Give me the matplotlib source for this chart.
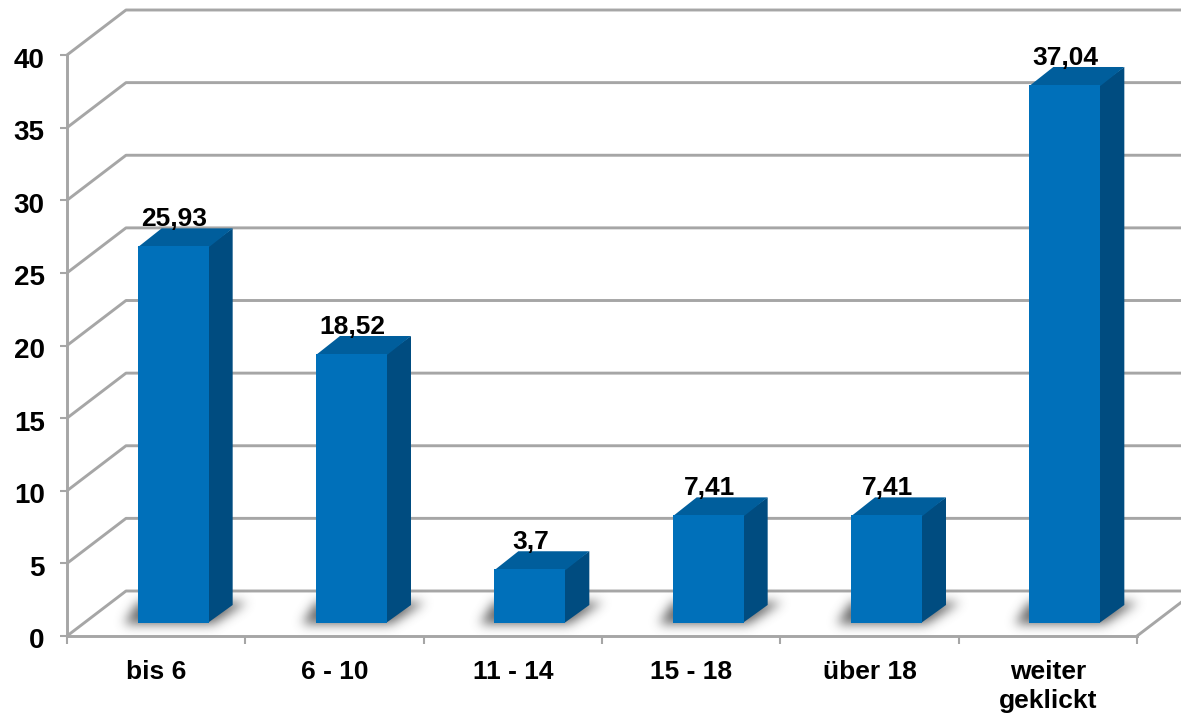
import numpy as np
import matplotlib
matplotlib.use("Agg")
import matplotlib.pyplot as plt
from matplotlib.patches import Polygon
from matplotlib.path import Path
from matplotlib.transforms import ScaledTranslation

categories = ["bis 6", "6 - 10", "11 - 14", "15 - 18", "über 18", "weiter\ngeklickt"]
values = [25.93, 18.52, 3.7, 7.41, 7.41, 37.04]
labels = ["25,93", "18,52", "3,7", "7,41", "7,41", "37,04"]
yticks = [0, 5, 10, 15, 20, 25, 30, 35, 40]

W, H = 1181, 719
L, R, B, T = 67, 1137, 636, 55
plt.rcParams["font.family"] = ["Liberation Sans", "DejaVu Sans"]
fig = plt.figure(figsize=(W / 100, H / 100), dpi=100)
ax = fig.add_axes([L / W, 1 - B / H, (R - L) / W, (B - T) / H])
ax.patch.set_visible(False)

px = 6 / (R - L)      # category units per pixel
py = 40 / (B - T)     # value units per pixel
wall_dx, wall_dy = 59 * px, 45 * py
GRID = "#a6a6a6"
LW = 2.1

# walls and floor
for t in yticks:
    ax.plot([0, wall_dx, 7], [t, t + wall_dy, t + wall_dy],
            color=GRID, lw=LW, clip_on=False, zorder=1, solid_capstyle="butt")
ax.plot([6, 6 + wall_dx], [0, wall_dy], color=GRID, lw=LW, clip_on=False, zorder=1)

# blurred floor shadow, built in pixel units around the bar foot
def shadow_image(bar_px):
    pad = 20
    margin = 40
    w, h = bar_px + margin + 80, 26 + 2 * pad
    yy, xx = np.mgrid[0:h, 0:w]
    pts = np.column_stack([xx.ravel() + 0.5, yy.ravel() + 0.5])
    foot_l, foot_r = margin, margin + bar_px
    poly = [(foot_l - 14, pad + 25), (foot_r + 4, pad + 25),
            (foot_r + 38, pad + 3), (foot_l, pad + 3)]
    mask = Path(poly).contains_points(pts).reshape(h, w).astype(float)
    kx = np.exp(-0.5 * (np.arange(-16, 17) / 5.5) ** 2)
    kx /= kx.sum()
    mask = np.apply_along_axis(lambda r: np.convolve(r, kx, mode="same"), 1, mask)
    mask = np.apply_along_axis(lambda c: np.convolve(c, kx, mode="same"), 0, mask)
    rgba = np.zeros((h, w, 4))
    rgba[..., :3] = 0.3
    rgba[..., 3] = mask * 0.85
    return rgba, pad, margin

# bars
bar_px = 71
bar_w = bar_px * px
front_dx, front_dy = 17 * px, 13 * py
side_dx, side_dy = 24 * px, 18 * py
FRONT, SIDE, TOP = "#0070ba", "#004c80", "#005e9c"

img, pad, margin = shadow_image(bar_px)
for i, v in enumerate(values):
    x0 = i + 0.5 + front_dx - bar_w / 2
    x1 = x0 + bar_w
    left = x0 - margin * px
    right = left + img.shape[1] * px
    bottom = front_dy - (img.shape[0] - pad - 24) * py
    upper = bottom + img.shape[0] * py
    ax.imshow(img, extent=(left, right, bottom, upper), aspect="auto", origin="upper",
              zorder=2, clip_on=False, interpolation="bilinear")
    top = front_dy + v
    ax.add_patch(Polygon([(x1 - px, front_dy), (x1 + side_dx, front_dy + side_dy),
                          (x1 + side_dx, top + side_dy), (x1 - px, top)],
                         closed=True, facecolor=SIDE, edgecolor="none", zorder=3))
    ax.add_patch(Polygon([(x0, top - py), (x1, top - py), (x1 + side_dx, top + side_dy),
                          (x0 + side_dx, top + side_dy)],
                         closed=True, facecolor=TOP, edgecolor="none", zorder=3))
    ax.bar(x0, v, width=bar_w, bottom=front_dy, align="edge", color=FRONT, zorder=4)
    ax.annotate(labels[i], xy=((x0 + x1) / 2, top), xytext=(0.7, 14.5), textcoords="offset points",
                ha="center", va="baseline", fontsize=19, fontweight="bold", color="black", zorder=6)

ax.set_xlim(0, 6)
ax.set_ylim(0, 40)

# axes, ticks, labels
for s in ("top", "right"):
    ax.spines[s].set_visible(False)
for s in ("left", "bottom"):
    ax.spines[s].set_color(GRID)
    ax.spines[s].set_linewidth(LW)
    ax.spines[s].set_zorder(5)
ax.set_yticks(yticks)
ax.set_yticklabels([str(t) for t in yticks], fontsize=20, fontweight="bold")
ax.tick_params(axis="y", length=5, width=1.5, color=GRID, pad=11)
shift = ScaledTranslation(0, -2.5 / 100, fig.dpi_scale_trans)
for lab in ax.get_yticklabels():
    lab.set_transform(lab.get_transform() + shift)
ax.set_xticks(range(7))
ax.set_xticklabels([])
ax.tick_params(axis="x", which="major", length=6, width=1.5, color=GRID)
ax.set_xticks([i + 0.5 for i in range(6)], minor=True)
ax.set_xticklabels(categories, minor=True, fontsize=19, fontweight="bold", linespacing=1.3)
ax.tick_params(axis="x", which="minor", length=0, pad=17)

fig.savefig("out.png", dpi=100, facecolor="white")
